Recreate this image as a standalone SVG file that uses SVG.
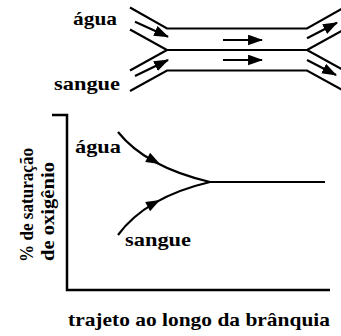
<svg xmlns="http://www.w3.org/2000/svg" width="341" height="336" viewBox="0 0 341 336">
<style>
.ln{fill:none;stroke:#000;stroke-width:2.2;stroke-linejoin:miter}
.ar{fill:none;stroke:#000;stroke-width:2.2;marker-end:url(#ah)}
text{font-family:"Liberation Serif","DejaVu Serif",serif;font-weight:bold;font-size:19px;fill:#000}
</style>
<defs>
<marker id="ah" markerUnits="userSpaceOnUse" markerWidth="15" markerHeight="11" refX="13" refY="5" orient="auto" viewBox="0 0 14 10">
<path d="M0,0 L14,5 L0,10 z" fill="#000"/>
</marker>
<path id="hd" d="M0,0 L-14,-5.2 L-14,5.2 z" fill="#000"/>
</defs>
<rect width="341" height="336" fill="#fff"/>
<g id="channels">
<path class="ln" d="M130,7.5 L167,28.5 H307 L344,7.5"/>
<path class="ln" d="M130,29.5 L167,50 L130,70.5 M167,50 H307 M344,29.5 L307,50 L344,70.5"/>
<path class="ln" d="M130,91 L167,70.5 H307 L344,91"/>
</g>
<g id="connectors">
<path class="ar" d="M135,21.7 L168,36.7"/>
<path class="ar" d="M135,76 L168,60"/>
<path class="ar" d="M307,38.3 L337,22.7"/>
<path class="ar" d="M307,60 L336,75"/>
<path class="ar" d="M223,40 L262,40"/>
<path class="ar" d="M223,60 L262,60"/>
</g>
<g id="label-agua-top"><text x="73" y="24.5" textLength="44" lengthAdjust="spacingAndGlyphs">água</text></g>
<g id="label-sangue-top"><text x="54" y="90" textLength="66" lengthAdjust="spacingAndGlyphs">sangue</text></g>
<g id="axes">
<path class="ln" style="stroke-width:2.5" d="M52,115 H67 V290 H330"/>
</g>
<g id="curves">
<path class="ln" d="M118,132 Q146,167 210,182 H325"/>
<path class="ln" d="M118,235 Q146,197 210,182"/>
<use href="#hd" transform="translate(160,164) rotate(28)"/>
<use href="#hd" transform="translate(160,200) rotate(-28)"/>
</g>
<g id="label-agua-graph"><text x="75" y="153" textLength="46" lengthAdjust="spacingAndGlyphs">água</text></g>
<g id="label-sangue-graph"><text x="125" y="246" textLength="66" lengthAdjust="spacingAndGlyphs">sangue</text></g>
<g id="y-label">
<text transform="translate(33,262) rotate(-90)" textLength="114" lengthAdjust="spacingAndGlyphs">% de saturação</text>
<text transform="translate(54,261) rotate(-90)" textLength="99" lengthAdjust="spacingAndGlyphs">de oxigênio</text>
</g>
<g id="x-label"><text x="68" y="325.5" textLength="262" lengthAdjust="spacingAndGlyphs">trajeto ao longo da brânquia</text></g>
</svg>
